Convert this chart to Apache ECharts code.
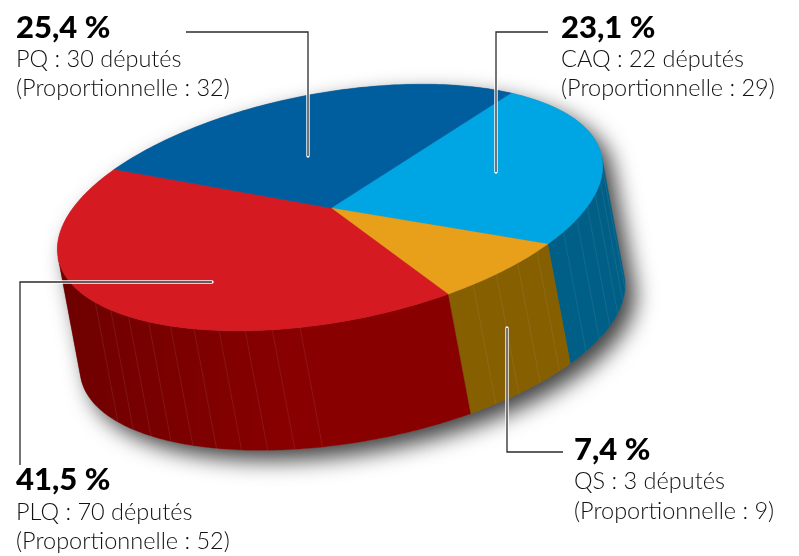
<!DOCTYPE html>
<html><head><meta charset="utf-8">
<style>html,body{margin:0;padding:0;background:#fff}#c{width:799px;height:556px}</style>
<script src="https://cdn.jsdelivr.net/npm/echarts@6/dist/echarts.min.js"></script>
</head><body><div id="c"></div>
<script>
const categories = ['CAQ', 'QS', 'PLQ', 'PQ'];
const shares = [23.1, 7.4, 41.5, 25.4];
const shareLabels = ['23,1 %', '7,4 %', '41,5 %', '25,4 %'];
const seats = [22, 3, 70, 30];
const proportional = [29, 9, 52, 32];
const topColors = ['#00a5e3', '#e8a01a', '#d61a21', '#005e9f'];
const wallColors = ['#005f86', '#855f00', '#880000', '#005e9f'];

const START = -44, CX = 330, CY = 207.5, RA = 276.5, RB = 114.5, TILT = 10.5 * Math.PI / 180, DX = 22.5, DY = 119.5;
const APEX = [331, 208];
const total = shares.reduce((a, b) => a + b, 0);
let acc = START;
const sliceData = shares.map((s, i) => { const a = acc; acc += s / total * 360; return { value: [a, acc], name: categories[i] }; });

function pt(deg, drop) {
  const t = deg * Math.PI / 180, x = RA * Math.cos(t), y = RB * Math.sin(t);
  return [CX + x * Math.cos(TILT) + y * Math.sin(TILT) + (drop ? DX : 0),
          CY - x * Math.sin(TILT) + y * Math.cos(TILT) + (drop ? DY : 0)];
}
function arc(a, b, drop, api) {
  const n = Math.max(2, Math.ceil(Math.abs(b - a))), out = [];
  for (let i = 0; i <= n; i++) out.push(api.coord(pt(a + (b - a) * i / n, drop)));
  return out;
}
const facetWindows = [[6, 38], [45, 66], [100.7, 154], null];
function renderTop(p, api) {
  const a = api.value(0), b = api.value(1), i = p.dataIndex;
  const pts = [api.coord(APEX)].concat(arc(a, b, false, api));
  return { type: 'polygon', shape: { points: pts }, style: { fill: topColors[i], stroke: topColors[i], lineWidth: 0.4 } };
}
function renderWall(p, api) {
  const i = p.dataIndex, a = Math.max(api.value(0), 0), b = Math.min(api.value(1), 180);
  if (b <= a) return { type: 'group', children: [] };
  const pts = arc(a, b, false, api).concat(arc(a, b, true, api).reverse());
  const fill = categories[i] === 'PLQ'
    ? { type: 'linear', x: 1, y: 0, x2: 0, y2: 0, colorStops: [{ offset: 0, color: '#880000' }, { offset: 0.45, color: '#880000' }, { offset: 1, color: '#6e0000' }] }
    : wallColors[i];
  const kids = [{ type: 'polygon', shape: { points: pts }, style: { fill, stroke: wallColors[i], lineWidth: 0.3 } }];
  const w = facetWindows[i];
  if (w) for (let d = w[0]; d <= w[1]; d += 5.9) {
    const p0 = api.coord(pt(d, false)), p1 = api.coord(pt(d, true));
    kids.push({ type: 'line', shape: { x1: p0[0], y1: p0[1], x2: p1[0], y2: p1[1] }, style: { stroke: 'rgba(190,190,190,0.2)', lineWidth: 0.6 } });
  }
  return { type: 'group', children: kids };
}
function renderShadow(p, api) {
  const pts = arc(180, 360, false, api).concat(arc(0, 180, true, api));
  return { type: 'polygon', shape: { points: pts }, style: { fill: '#777', shadowColor: 'rgba(0,0,0,0.75)', shadowBlur: 22, shadowOffsetX: 10, shadowOffsetY: 10 } };
}
const custom = (name, r, z, data) => ({ type: 'custom', name, renderItem: r, z, data, silent: true, clip: false, animation: false, encode: { x: 0, y: 1 } });

const leaders = [
  [[186, 32], [308, 32], [308, 156]],
  [[548, 32], [496, 32], [496, 172]],
  [[212, 282], [20, 282], [20, 465]],
  [[507, 328], [507, 452], [563, 452]]
];
const graphic = [];
leaders.forEach(l => {
  graphic.push({ type: 'polyline', z: 50, shape: { points: l }, style: { fill: null, stroke: '#fff', lineWidth: 3.4, lineCap: 'round', lineJoin: 'miter' } });
  graphic.push({ type: 'polyline', z: 51, shape: { points: l }, style: { fill: null, stroke: '#2b2b2b', lineWidth: 1.3, lineJoin: 'miter' } });
});
const labelPos = { PQ: [16, 28, 59, 88], CAQ: [561, 28, 59, 88], PLQ: [16, 480, 512, 541], QS: [574, 450, 481, 511] };
const bodyFont = { fontFamily: 'Lato', fontWeight: 300, fontSize: 23.5 };
categories.forEach((c, i) => {
  const q = labelPos[c];
  graphic.push({ type: 'text', z: 60, x: q[0], y: q[1], style: { text: shareLabels[i], fontFamily: 'Lato', fontWeight: 900, fontSize: 31, fill: '#000', verticalAlign: 'middle' } });
  graphic.push({ type: 'text', z: 60, x: q[0], y: q[2], style: Object.assign({ text: c + ' : ' + seats[i] + ' députés', fill: '#111', verticalAlign: 'middle' }, bodyFont) });
  graphic.push({ type: 'text', z: 60, x: q[0], y: q[3], style: Object.assign({ text: '(Proportionnelle : ' + proportional[i] + ')', fill: '#111', verticalAlign: 'middle' }, bodyFont) });
});

const chart = echarts.init(document.getElementById('c'), null, { renderer: 'canvas' });
chart.setOption({
  animation: false,
  backgroundColor: '#fff',
  grid: { left: 0, right: 0, top: 0, bottom: 0 },
  xAxis: { type: 'value', min: 0, max: 799, show: false },
  yAxis: { type: 'value', min: 0, max: 556, inverse: true, show: false },
  series: [
    custom('ombre', renderShadow, 1, [{ value: [0, 0] }]),
    custom('flancs', renderWall, 2, sliceData),
    custom('parts', renderTop, 3, sliceData)
  ],
  graphic
});
</script></body></html>
